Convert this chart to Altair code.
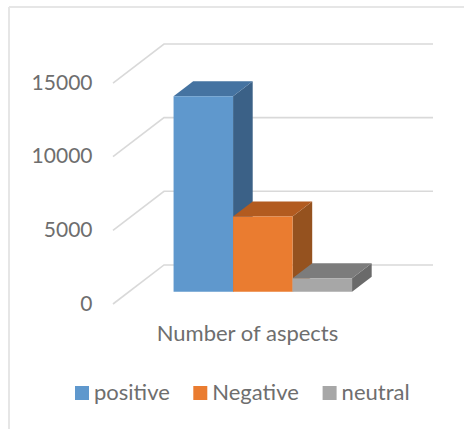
import altair as alt
import pandas as pd

# Survey totals per sentiment class
series = ["positive", "Negative", "neutral"]
counts = [13265, 5100, 910]
front_colors = ["#5f98cd", "#ea7c30", "#a7a7a7"]
top_colors = ["#4573a1", "#b25b20", "#7c7c7c"]
side_colors = ["#3b6187", "#95521f", "#6a6a6a"]
ticks = [0, 5000, 10000, 15000]
category_title = "Number of aspects"

# Oblique projection of the 3D column chart onto the flat plot
DEPTH_X = 0.857      # horizontal shift of the back wall, in column widths
DEPTH_Y = 2653       # vertical shift of the back wall, in value units
BAR_NEAR, BAR_FAR = 0.315, 0.70
BAR_START = 0.748
WALL_END = 5.378
X_MAX = WALL_END
Y_MAX = 17653


def project(u, value, depth):
    return u + depth * DEPTH_X, value + depth * DEPTH_Y


grid_rows = []
for t in ticks:
    for u, d in [(0, 0), (0, 1), (WALL_END - DEPTH_X, 1)]:
        px, py = project(u, t, d)
        grid_rows.append({"tick": t, "x": px, "y": py})
grid = pd.DataFrame(grid_rows)

front_rows, top_rows, side_rows = [], [], []
for i, (name, count) in enumerate(zip(series, counts)):
    left, right = BAR_START + i, BAR_START + i + 1
    x0, y0 = project(left, 0, BAR_NEAR)
    x1, y1 = project(right, count, BAR_NEAR)
    front_rows.append({"series": name, "x": x0, "x2": x1, "y": y0, "y2": y1})
    for d in (BAR_NEAR, BAR_FAR):
        xa, ya = project(left, count, d)
        xb, _ = project(right, count, d)
        top_rows.append({"series": name, "shade": top_colors[i], "x": xa, "x2": xb, "y": ya})
        xs, ylow = project(right, 0, d)
        _, yhigh = project(right, count, d)
        side_rows.append({"series": name, "shade": side_colors[i], "x": xs, "y": ylow, "y2": yhigh})

x_scale = alt.Scale(domain=[0, X_MAX], nice=False, zero=False)
y_scale = alt.Scale(domain=[0, Y_MAX], nice=False, zero=False)
TEXT = "#6e6e6e"
FONT = "Lato"

x_axis = alt.Axis(
    title=category_title, domain=False, ticks=False, labels=False, grid=False,
    titleFont=FONT, titleFontSize=22, titleFontWeight="normal", titleColor=TEXT,
    titleX=134, titleY=36, titleAnchor="middle", titleAlign="center",
    titleBaseline="alphabetic",
)
y_axis = alt.Axis(
    title=None, values=ticks, domain=False, ticks=False, grid=False, format="d",
    labelFont=FONT, labelFontSize=21, labelColor=TEXT, labelPadding=21,
)

gridlines = alt.Chart(grid).mark_line(color="#d9d9d9", strokeWidth=1.6).encode(
    x=alt.X("x:Q", scale=x_scale, axis=x_axis),
    y=alt.Y("y:Q", scale=y_scale, stack=None, axis=y_axis),
    detail="tick:N",
    order="x:Q",
)

sides = alt.Chart(pd.DataFrame(side_rows)).mark_area().encode(
    x=alt.X("x:Q", scale=x_scale, axis=x_axis),
    y=alt.Y("y:Q", scale=y_scale, stack=None, axis=y_axis),
    y2="y2:Q",
    color=alt.Color("shade:N", scale=None),
    detail="series:N",
)

tops = alt.Chart(pd.DataFrame(top_rows)).mark_area(orient="horizontal").encode(
    y=alt.Y("y:Q", scale=y_scale, axis=y_axis),
    x=alt.X("x:Q", scale=x_scale, stack=None, axis=x_axis),
    x2="x2:Q",
    color=alt.Color("shade:N", scale=None),
    detail="series:N",
)

fronts = alt.Chart(pd.DataFrame(front_rows)).mark_rect().encode(
    x=alt.X("x:Q", scale=x_scale, axis=x_axis),
    x2="x2:Q",
    y=alt.Y("y:Q", scale=y_scale, axis=y_axis),
    y2="y2:Q",
    color=alt.Color(
        "series:N",
        scale=alt.Scale(domain=series, range=front_colors),
        legend=alt.Legend(
            title=None, orient="none", legendX=-42, legendY=338, direction="horizontal",
            columns=3, symbolType="square", symbolSize=196, symbolStrokeWidth=0,
            labelFont=FONT, labelFontSize=22, labelColor=TEXT, labelOffset=1,
            columnPadding=19.3,
        ),
    ),
)

# Light frame around the figure
frame = pd.DataFrame({"edge": ["top", "left"]})
frame_top = alt.Chart(frame.iloc[[0]]).mark_rule(color="#e6e6e6", strokeWidth=2).encode(
    x=alt.value(-104), x2=alt.value(351), y=alt.value(-37)
)
frame_left = alt.Chart(frame.iloc[[1]]).mark_rule(color="#e6e6e6", strokeWidth=2).encode(
    x=alt.value(-104), y=alt.value(-37), y2=alt.value(385)
)

chart = alt.layer(gridlines, sides, tops, fronts, frame_top, frame_left).resolve_scale(
    color="independent"
).properties(
    width=320, height=260,
    padding={"left": 113, "top": 44, "right": 31, "bottom": 125},
    autosize=alt.AutoSizeParams(type="none"),
    background="white",
).configure_view(stroke=None)

chart.save("out.html", embed_options={"renderer": "svg", "actions": False})
